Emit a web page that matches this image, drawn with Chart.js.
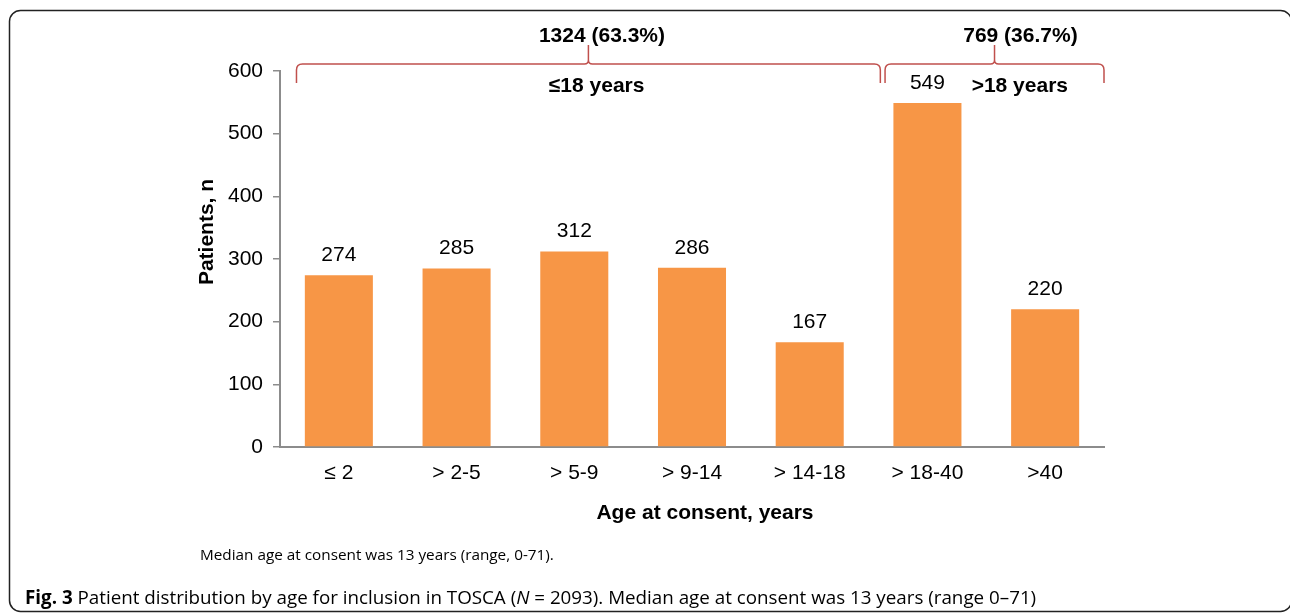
<!DOCTYPE html>
<html>
<head>
<meta charset="utf-8">
<script src="https://cdn.jsdelivr.net/npm/chart.js@4.4.1/dist/chart.umd.min.js"></script>
<style>
  html, body { margin: 0; padding: 0; background: #fff; }
  canvas { display: block; }
</style>
</head>
<body>
<canvas id="ageChart" width="1290" height="615"></canvas>
<script>
const ageGroups = ["≤ 2", "> 2-5", "> 5-9", "> 9-14", "> 14-18", "> 18-40", ">40"];
const patients = [274, 285, 312, 286, 167, 549, 220];
const yTicks = [0, 100, 200, 300, 400, 500, 600];

const groupNames = ["≤18 years", ">18 years"];
const groupTotals = ["1324 (63.3%)", "769 (36.7%)"];

const yTitle = "Patients, n";
const xTitle = "Age at consent, years";
const noteText = "Median age at consent was 13 years (range, 0-71).";
const figLabel = "Fig. 3";
const figCaption = " Patient distribution by age for inclusion in TOSCA (";
const figCaptionEnd = " = 2093). Median age at consent was 13 years (range 0\u201371)";

const ARIAL = "'Liberation Sans', Arial, sans-serif";

// braces, labels and frame
const extras = {
    id: "extras",
    beforeDraw(chart) {
        const ctx = chart.ctx;
        ctx.save();
        ctx.fillStyle = "#fff";
        ctx.fillRect(0, 0, chart.width, chart.height);
        ctx.strokeStyle = "#222";
        ctx.lineWidth = 1.5;
        ctx.beginPath();
        ctx.roundRect(9.5, 10.5, 1282, 601, 11);
        ctx.stroke();
        ctx.restore();
    },
    afterDatasetsDraw(chart) {
        const ctx = chart.ctx;
        const x = chart.scales.x;
        const step = x.getPixelForValue(1) - x.getPixelForValue(0);
        const px = v => x.getPixelForValue(0) + v * step;

        ctx.save();
        // value labels
        ctx.font = "21px " + ARIAL;
        ctx.fillStyle = "#000";
        ctx.textAlign = "center";
        ctx.textBaseline = "middle";
        chart.getDatasetMeta(0).data.forEach((bar, i) => {
            ctx.fillText(patients[i], bar.x, bar.y - 20);
        });

        // braces
        const spans = [[-0.36, 4.6], [4.64, 6.5]];
        const yLine = 64, yEnd = 83, yTip = 45, r = 6, rt = 4;
        ctx.strokeStyle = "#c0504d";
        ctx.lineWidth = 1.5;
        spans.forEach(s => {
            const x1 = px(s[0]), x2 = px(s[1]), xm = (x1 + x2) / 2;
            ctx.beginPath();
            ctx.moveTo(x1, yEnd);
            ctx.lineTo(x1, yLine + r);
            ctx.quadraticCurveTo(x1, yLine, x1 + r, yLine);
            ctx.lineTo(xm - rt, yLine);
            ctx.quadraticCurveTo(xm, yLine, xm, yLine - rt);
            ctx.lineTo(xm, yTip);
            ctx.lineTo(xm, yLine - rt);
            ctx.quadraticCurveTo(xm, yLine, xm + rt, yLine);
            ctx.lineTo(x2 - r, yLine);
            ctx.quadraticCurveTo(x2, yLine, x2, yLine + r);
            ctx.lineTo(x2, yEnd);
            ctx.stroke();
        });

        ctx.font = "bold 21px " + ARIAL;
        ctx.fillStyle = "#000";
        const totalPos = [2.235, 5.79];
        const namePos = [2.19, 5.785];
        groupTotals.forEach((t, i) => ctx.fillText(t, px(totalPos[i]), 36));
        groupNames.forEach((t, i) => ctx.fillText(t, px(namePos[i]), 86));

        // axis titles
        ctx.fillText(xTitle, 705, 513);
        ctx.save();
        ctx.translate(207, 232);
        ctx.rotate(-Math.PI / 2);
        ctx.fillText(yTitle, 0, 0);
        ctx.restore();

        // notes under the chart
        ctx.textAlign = "left";
        ctx.font = "15.3px 'Open Sans', sans-serif";
        ctx.fillText(noteText, 200, 556);

        let cx = 25;
        ctx.font = "bold 18.8px 'Open Sans', sans-serif";
        ctx.fillText(figLabel, cx, 599);
        cx += ctx.measureText(figLabel).width;
        ctx.font = "18.8px 'Open Sans', sans-serif";
        ctx.fillText(figCaption, cx, 599);
        cx += ctx.measureText(figCaption).width;
        ctx.font = "italic 18.8px 'Open Sans', sans-serif";
        ctx.fillText("N", cx, 599);
        cx += ctx.measureText("N").width;
        ctx.font = "18.8px 'Open Sans', sans-serif";
        ctx.fillText(figCaptionEnd, cx, 599);
        ctx.restore();
    }
};

const ctx = document.getElementById("ageChart").getContext("2d");
new Chart(ctx, {
    type: "bar",
    data: {
        labels: ageGroups,
        datasets: [{
            label: "Patients",
            data: patients,
            backgroundColor: "#f79646",
            borderWidth: 0,
            categoryPercentage: 1,
            barPercentage: 0.578
        }]
    },
    options: {
        responsive: false,
        animation: false,
        layout: {
            padding: { left: 190, right: 186, top: 71, bottom: 83 }
        },
        plugins: {
            legend: { display: false },
            tooltip: { enabled: false }
        },
        scales: {
            x: {
                afterFit: scale => { scale.height = 85; },
                grid: { display: false, drawTicks: false },
                border: { display: true, color: "#8c8c8c", width: 2 },
                ticks: {
                    color: "#000",
                    padding: 14,
                    font: { size: 21, family: ARIAL }
                }
            },
            y: {
                min: 0,
                max: 600,
                afterFit: scale => { scale.width = 90; },
                afterBuildTicks: scale => { scale.ticks = yTicks.map(v => ({ value: v })); },
                grid: { drawOnChartArea: false, tickLength: 7, color: "#8c8c8c", lineWidth: 1.5 },
                border: { display: true, color: "#8c8c8c", width: 2 },
                ticks: {
                    color: "#000",
                    padding: 10,
                    font: { size: 21, family: ARIAL }
                }
            }
        }
    },
    plugins: [extras]
});
</script>
</body>
</html>
